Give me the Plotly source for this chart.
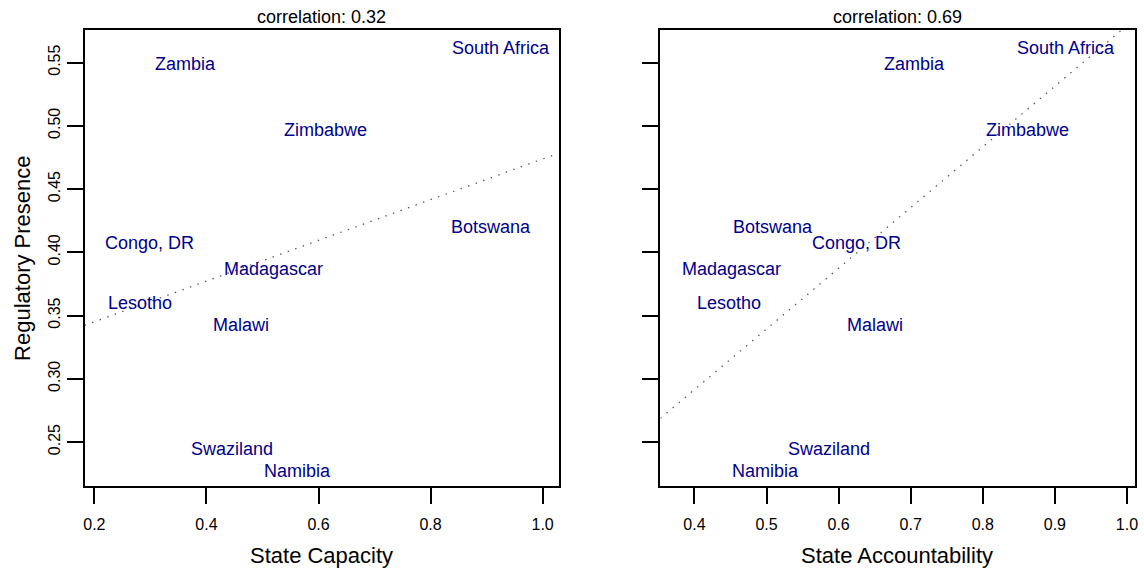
import numpy as np
import plotly.graph_objects as go

# Country scores
countries = ["Zambia", "South Africa", "Zimbabwe", "Botswana", "Congo, DR",
             "Madagascar", "Lesotho", "Malawi", "Swaziland", "Namibia"]
regulatory_presence = [0.5489, 0.5616, 0.4964, 0.4197, 0.4070,
                       0.3867, 0.3596, 0.3424, 0.2443, 0.2274]
state_capacity = [0.362, 0.925, 0.612, 0.907, 0.299,
                  0.520, 0.282, 0.462, 0.446, 0.563]
state_accountability = [0.705, 0.916, 0.862, 0.509, 0.625,
                        0.451, 0.448, 0.651, 0.586, 0.498]

# Axis ticks
presence_ticks = [0.25, 0.30, 0.35, 0.40, 0.45, 0.50, 0.55]
capacity_ticks = [0.2, 0.4, 0.6, 0.8, 1.0]
accountability_ticks = [0.4, 0.5, 0.6, 0.7, 0.8, 0.9, 1.0]

# Axis ranges
presence_range = [0.2156, 0.5755]
capacity_range = [0.1826, 1.0284]
accountability_range = [0.3528, 1.0105]

FONT = "Liberation Sans, Arial, Helvetica, sans-serif"
LABEL_COLOR = "#00008B"
W, H = 1144, 569

fig = go.Figure()

panels = [
    ("x", "y", state_capacity, capacity_range, "State Capacity"),
    ("x2", "y2", state_accountability, accountability_range, "State Accountability"),
]

for xref, yref, xs, xr, xtitle in panels:
    xv = np.array(xs)
    yv = np.array(regulatory_presence)
    r = np.corrcoef(xv, yv)[0, 1]
    slope, intercept = np.polyfit(xv, yv, 1)

    # least-squares line across the full panel width
    lx = np.array(xr)
    fig.add_trace(go.Scatter(
        x=lx, y=intercept + slope * lx, mode="lines",
        line=dict(color="#555555", width=1.3, dash="1.4px,6.6px"),
        xaxis=xref, yaxis=yref, hoverinfo="skip", showlegend=False,
    ))

    # country names centred on their scores
    for name, cx, cy in zip(countries, xs, regulatory_presence):
        fig.add_annotation(
            x=cx, y=cy, xref=xref, yref=yref, text=name, showarrow=False,
            xanchor="center", yanchor="middle", yshift=0,
            font=dict(family=FONT, size=18, color=LABEL_COLOR),
        )

    fig.add_annotation(
        text=f"correlation: {r:.2f}", xref=f"{xref} domain", yref="paper",
        x=0.5, y=1 - 17.5 / H, xanchor="center", yanchor="middle",
        showarrow=False, font=dict(family=FONT, size=18, color="black"),
    )
    fig.add_annotation(
        text=xtitle, xref=f"{xref} domain", yref="paper",
        x=0.5, y=1 - 555 / H, xanchor="center", yanchor="middle",
        showarrow=False, font=dict(family=FONT, size=22, color="black"),
    )

fig.add_annotation(
    text="Regulatory Presence", xref="paper", yref="paper",
    x=21 / W, y=1 - 258 / H, xanchor="center", yanchor="middle", textangle=-90,
    showarrow=False, font=dict(family=FONT, size=22, color="black"),
)

axis_common = dict(
    showline=True, linecolor="black", linewidth=2, mirror=True,
    ticks="outside", ticklen=16, tickwidth=2, tickcolor="black",
    showgrid=False, zeroline=False,
    tickfont=dict(family=FONT, size=16, color="black"),
)

y_domain = [1 - 485.5 / H, 1 - 30.3 / H]

fig.update_layout(
    width=W, height=H,
    margin=dict(l=0, r=0, t=0, b=0),
    paper_bgcolor="white", plot_bgcolor="white",
    xaxis=dict(domain=[84 / W, 560 / W], range=capacity_range,
               tickvals=capacity_ticks, tickformat=".1f", anchor="y",
               ticklabelstandoff=7, **axis_common),
    yaxis=dict(domain=y_domain, range=presence_range,
               tickvals=presence_ticks, tickformat=".2f", tickangle=-90,
               anchor="x", **axis_common),
    xaxis2=dict(domain=[662.3 / W, 1138.5 / W], range=accountability_range,
                tickvals=accountability_ticks, tickformat=".1f", anchor="y2",
                ticklabelstandoff=7, **axis_common),
    yaxis2=dict(domain=y_domain, range=presence_range,
                tickvals=presence_ticks, showticklabels=False,
                anchor="x2", **axis_common),
)

fig.write_html("out.html")
